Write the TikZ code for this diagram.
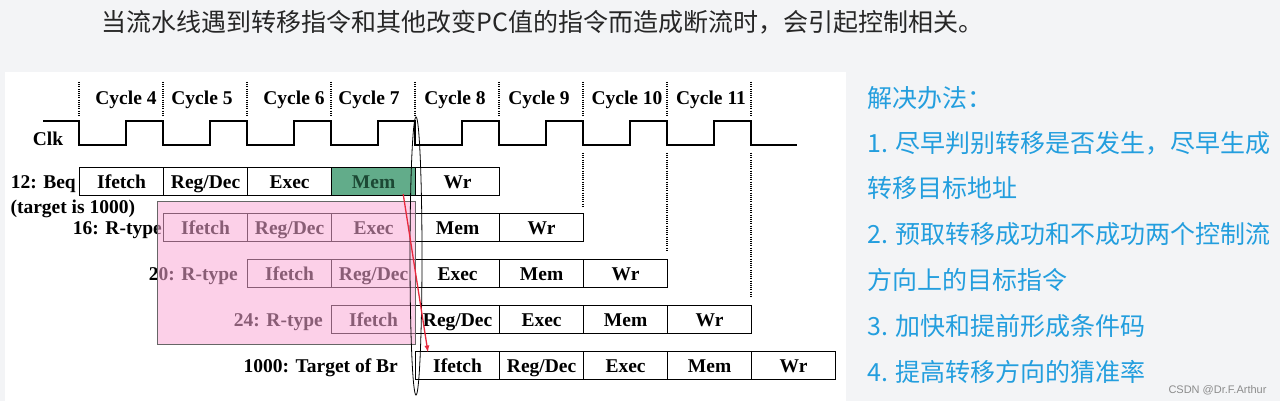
\documentclass[tikz,border=0pt]{standalone}
\usepackage{fontspec}
\setmainfont{Liberation Serif}
\newfontfamily\cjk{Noto Sans CJK SC}
\newfontfamily\marksans{Liberation Sans}
\usetikzlibrary{arrows.meta}
\definecolor{pagegrey}{RGB}{243,244,246}
\definecolor{memgreen}{RGB}{98,172,138}
\definecolor{memtext}{RGB}{28,72,52}
\definecolor{flushpink}{RGB}{250,170,214}
\definecolor{tipblue}{RGB}{35,158,222}
\definecolor{brred}{RGB}{232,40,60}

\begin{document}
\begin{tikzpicture}[x=1pt,y=-1pt,
    stage/.style={draw,line width=1.2pt,minimum width=84pt,minimum height=28pt,inner sep=0pt,text height=15pt,text depth=0pt,anchor=west,font=\bfseries\fontsize{19.5}{20}\selectfont},
    hl03/.style={fill=memgreen,text=memtext},
    instr/.style={anchor=east,inner sep=0pt,text height=15pt,text depth=0pt,font=\bfseries\fontsize{19.5}{20}\selectfont},
    cyc/.style={font=\bfseries\fontsize{19.5}{20}\selectfont},
    tick/.style={line width=1.3pt,dash pattern=on 1pt off 1.2pt},
    tip/.style={anchor=west,text=tipblue,font=\cjk\fontsize{25}{25}\selectfont}]
  \useasboundingbox (0,0) rectangle (1280,401);
  \fill[pagegrey] (0,0) rectangle (1280,401);
  \fill[white] (5,72) rectangle (846,401);
  % title line
  \node[anchor=west,text=black!85,font=\cjk\fontsize{25}{25}\selectfont] (title) at (98,22) {当流水线遇到转移指令和其他改变PC值的指令而造成断流时，会引起控制相关。};
  % clock and cycles
  \foreach \k in {0,...,8}
    \draw[tick] (79+84*\k,82) -- (79+84*\k,116);
  \foreach \c/\x in {4/126,5/202,6/294,7/369,8/455,9/539,10/627,11/711}
    \node[cyc] (cyc\c) at (\x,100) {Cycle \c};
  \node[cyc] (clk) at (48,139) {Clk};
  \draw[line width=1.3pt] (43,121) -- (79,121)
    \foreach \k in {0,...,7} { -- (79+84*\k,145) -- (126+84*\k,145) -- (126+84*\k,121) -- (163+84*\k,121) }
    -- (751,145) -- (797,145);
  \foreach \k/\e in {6/207,7/252,8/298}
    \draw[tick] (79+84*\k,153) -- (79+84*\k,\e);
  % pipeline rows
  \foreach \r in {0,...,4}
    \foreach \s [count=\j from 0] in {Ifetch,{Reg/Dec},Exec,Mem,Wr}
      \node[stage,hl\r\j/.try] (s\r\j) at (79+84*\r+84*\j,181.5+45.9*\r) {\s};
  \node[instr] (l0) at ([xshift=-3pt]s00.west) {12: Beq};
  \node[anchor=west,font=\bfseries\fontsize{19.5}{20}\selectfont] (l0b) at (7,209) {(target is 1000)};
  \node[instr] (l1) at ([xshift=-1pt]s10.west) {16: R-type};
  \node[instr] (l2) at ([xshift=-9pt]s20.west) {20: R-type};
  \node[instr] (l3) at ([xshift=-8pt]s30.west) {24: R-type};
  \node[instr] (l4) at ([xshift=-17pt]s40.west) {1000: Target of Br};
  % flushed instructions
  \draw[black!60,line width=0.9pt,fill=flushpink,fill opacity=0.55] (157,201) rectangle (415,344);
  \draw[line width=0.8pt] (416,256) ellipse (6pt and 139pt);
  \draw[brred,line width=1.3pt,-{Latex[length=7pt,width=5pt]}] ([xshift=-13pt,yshift=2pt]s03.south east) -- ([xshift=13pt,yshift=-2pt]s40.north west);
  % solutions
  \node[tip] (sol) at (864,98) {解决办法：};
  \node[tip] (sol1) at (864,143) {1. 尽早判别转移是否发生，尽早生成};
  \node[tip] (sol1b) at (864,188) {转移目标地址};
  \node[tip] (sol2) at (864,234) {2. 预取转移成功和不成功两个控制流};
  \node[tip] (sol2b) at (864,280) {方向上的目标指令};
  \node[tip] (sol3) at (864,326) {3. 加快和提前形成条件码};
  \node[tip] (sol4) at (864,372) {4. 提高转移方向的猜准率};
  \node[anchor=east,text=black!45,font=\marksans\fontsize{11}{11}\selectfont] (mark) at (1270,390) {CSDN @Dr.F.Arthur};
\end{tikzpicture}
\end{document}
